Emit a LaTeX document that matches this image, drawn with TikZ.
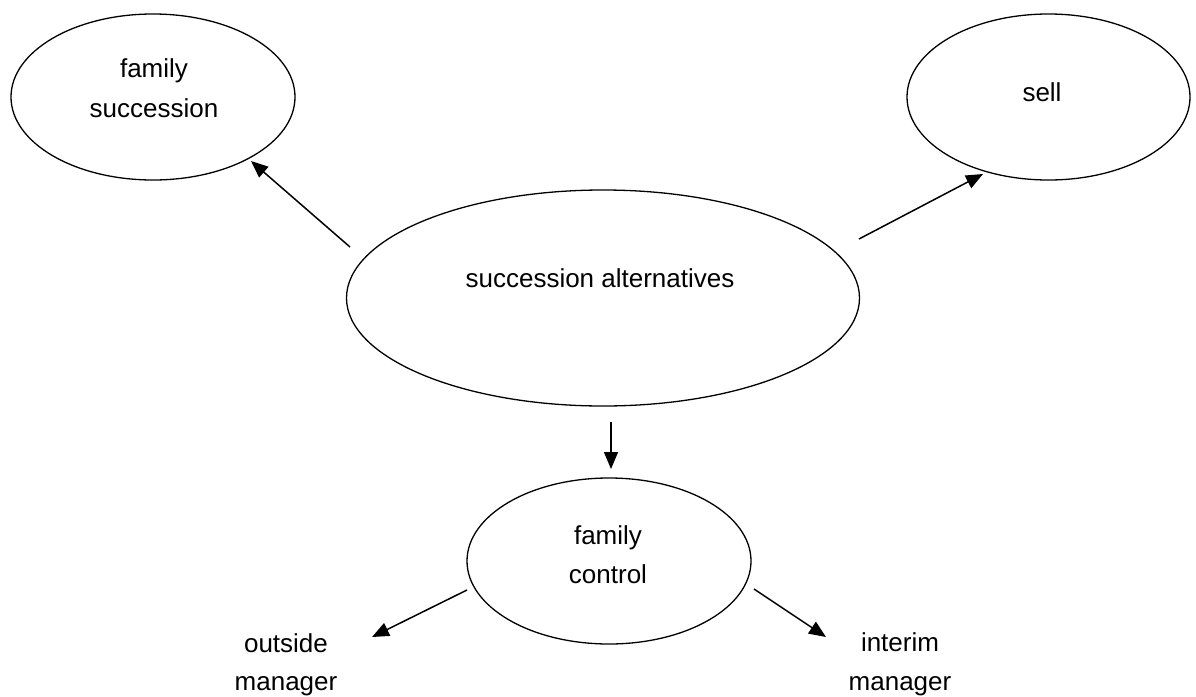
\documentclass[tikz,border=0pt]{standalone}
\usepackage{fontspec}
\setmainfont{Liberation Sans}
\usetikzlibrary{shapes.geometric,arrows.meta}
\begin{document}
\begin{tikzpicture}[x=1pt,y=-1pt,
  ell/.style={draw=black,line width=1.3pt,ellipse,inner sep=0pt},
  lbl/.style={font=\fontsize{26}{30}\selectfont,anchor=base,inner sep=0pt},
  arr/.style={draw=black,line width=1.5pt,-{Triangle[length=17pt,width=14pt]}}]
\useasboundingbox[fill=white] (0,0) rectangle (1196,696);

% ellipses
\node[ell,minimum width=284pt,minimum height=166pt] (fs) at (153,97) {};
\node[ell,minimum width=283pt,minimum height=166pt] (sell) at (1048.5,97) {};
\node[ell,minimum width=513pt,minimum height=216pt] (sa) at (603,298) {};
\node[ell,minimum width=284pt,minimum height=166pt] (fc) at (609,561) {};

% texts
\node[lbl] (fs1) at (154,77) {family};
\node[lbl] (fs2) at (154,117) {succession};
\node[lbl] (sellt) at (1042,101) {sell};
\node[lbl] (sat) at (600,287) {succession alternatives};
\node[lbl] (fc1) at (608,544) {family};
\node[lbl] (fc2) at (608,583) {control};
\node[lbl] (om1) at (286,652) {outside};
\node[lbl] (om2) at (286,690) {manager};
\node[lbl] (im1) at (900,651) {interim};
\node[lbl] (im2) at (900,690) {manager};

% connector ends
\coordinate (a1s) at (350,247);
\coordinate (a1e) at (251,161);
\coordinate (a2s) at (859,239);
\coordinate (a2e) at (983,174);
\coordinate (a3s) at (611,422);
\coordinate (a3e) at (611,469);
\coordinate (a4s) at (467,590);
\coordinate (a4e) at (372,637);
\coordinate (a5s) at (754,589);
\coordinate (a5e) at (826,637);

\draw[arr] (a1s) -- (a1e);
\draw[arr] (a2s) -- (a2e);
\draw[arr] (a3s) -- (a3e);
\draw[arr] (a4s) -- (a4e);
\draw[arr] (a5s) -- (a5e);
\end{tikzpicture}
\end{document}
